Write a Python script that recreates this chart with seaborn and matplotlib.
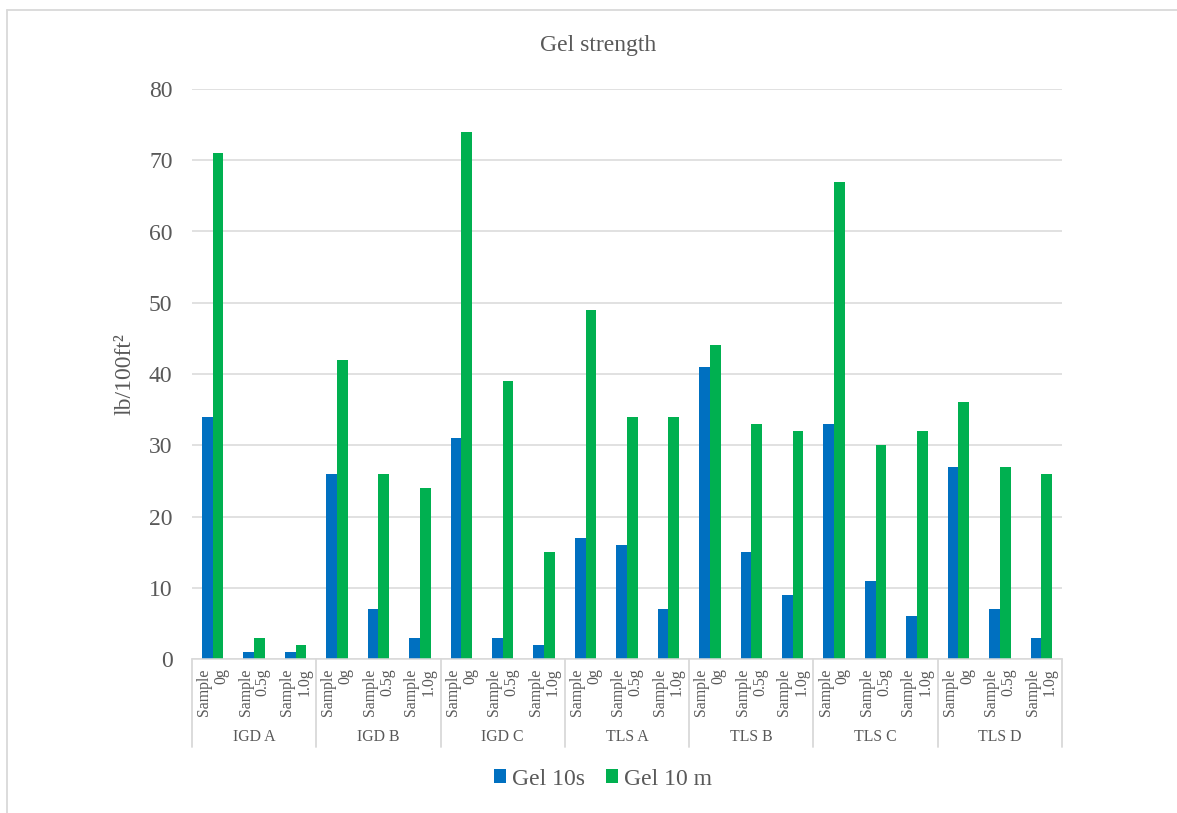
import matplotlib
matplotlib.use("Agg")
import matplotlib.pyplot as plt
from matplotlib.lines import Line2D
from matplotlib.patches import Patch
import seaborn as sns
import pandas as pd

# Fluid groups and additive dosages
groups = ["IGD A", "IGD B", "IGD C", "TLS A", "TLS B", "TLS C", "TLS D"]
samples = ["Sample\n0g", "Sample\n0.5g", "Sample\n1.0g"]

# Gel strength readings (lb/100ft²), three samples per group
gel_10s = [34, 1, 1, 26, 7, 3, 31, 3, 2, 17, 16, 7, 41, 15, 9, 33, 11, 6, 27, 7, 3]
gel_10m = [71, 3, 2, 42, 26, 24, 74, 39, 15, 49, 34, 34, 44, 33, 32, 67, 30, 32, 36, 27, 26]

series_names = ["Gel 10s", "Gel 10 m"]
series_colors = ["#0070C0", "#00B050"]
y_ticks = [0, 10, 20, 30, 40, 50, 60, 70, 80]

TEXT = "#595959"
GRID = "#D9D9D9"

keys = [f"{g}|{s}" for g in groups for s in samples]
df = pd.DataFrame({
    "key": keys * 2,
    "value": gel_10s + gel_10m,
    "series": [series_names[0]] * len(keys) + [series_names[1]] * len(keys),
})

sns.set_theme(style="white")
plt.rcParams["font.family"] = ["Liberation Serif", "DejaVu Serif"]

fig = plt.figure(figsize=(11.77, 8.13), dpi=100)
ax = fig.add_axes([192 / 1177, 1 - 659 / 813, 870 / 1177, 570 / 813])

sns.barplot(data=df, x="key", y="value", hue="series", order=keys,
            hue_order=series_names, palette=series_colors, width=0.515,
            linewidth=0, saturation=1, legend=False, ax=ax)

ax.set_xlim(-0.5, len(keys) - 0.5)
ax.set_ylim(0, 80)
ax.set_yticks(y_ticks)
ax.set_yticklabels([str(t) for t in y_ticks], fontsize=17, color=TEXT)
ax.tick_params(axis="y", length=0, pad=14)
ax.set_xticks([])
ax.set_xlabel("")
ax.set_ylabel("")
ax.yaxis.grid(True, color=GRID, linewidth=1.1)
ax.set_axisbelow(True)
for side in ["left", "right", "top"]:
    ax.spines[side].set_visible(False)
ax.spines["bottom"].set_color(GRID)
ax.spines["bottom"].set_linewidth(1.1)

# Two-level category axis: sample labels, group labels and separators
trans = ax.get_xaxis_transform()
for i, k in enumerate(keys):
    s = k.split("|")[1]
    ax.text(i, -0.016, s, transform=trans, rotation=90, ha="center", va="top",
            multialignment="right", fontsize=11.4, color=TEXT, linespacing=1.1,
            clip_on=False)
n = len(samples)
for gi, g in enumerate(groups):
    ax.text(gi * n + (n - 1) / 2, -0.137, g, transform=trans, ha="center",
            va="center", fontsize=11.4, color=TEXT, clip_on=False)
for b in range(len(groups) + 1):
    x = b * n - 0.5
    ax.add_line(Line2D([x, x], [0, -0.155], transform=trans, color=GRID,
                       linewidth=1.3, clip_on=False))

fig.text(598 / 1177, 1 - 45 / 813, "Gel strength", ha="center", va="center",
         fontsize=17, color=TEXT)
fig.text(125 / 1177, 1 - 374 / 813, "lb/100ft²", ha="center", va="center",
         rotation=90, fontsize=17, color=TEXT)

handles = [Patch(facecolor=c, edgecolor="none", label=n_)
           for c, n_ in zip(series_colors, series_names)]
leg = fig.legend(handles=handles, loc="center", bbox_to_anchor=(603 / 1177, 1 - 779 / 813),
                 ncol=2, frameon=False, fontsize=17, handlelength=0.5,
                 handleheight=0.5, handletextpad=0.25, columnspacing=0.9,
                 borderaxespad=0, borderpad=0)
for t in leg.get_texts():
    t.set_color(TEXT)

# Chart frame edges
fig.add_artist(Line2D([7 / 1177, 1], [1 - 10 / 813, 1 - 10 / 813],
                      transform=fig.transFigure, color=GRID, linewidth=1.3))
fig.add_artist(Line2D([7 / 1177, 7 / 1177], [0, 1 - 10 / 813],
                      transform=fig.transFigure, color=GRID, linewidth=1.3))

fig.savefig("out.png", dpi=100)
